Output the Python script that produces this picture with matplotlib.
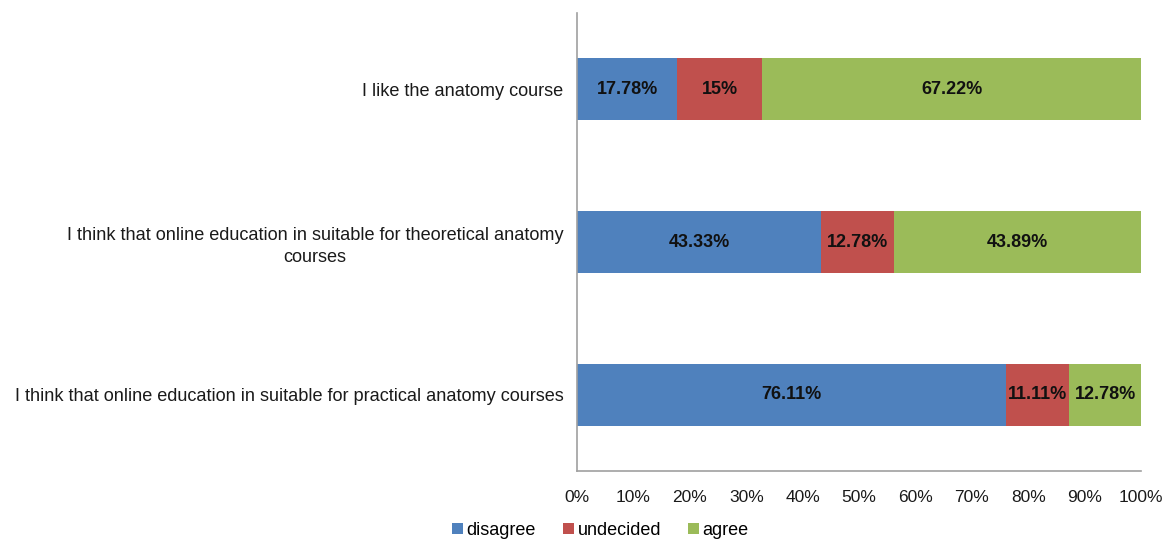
import numpy as np
import matplotlib.pyplot as plt

plt.rcParams['font.family'] = ['Liberation Sans', 'DejaVu Sans']

# data (top to bottom)
statements = [
    "I like the anatomy course",
    "I think that online education in suitable for theoretical anatomy\ncourses",
    "I think that online education in suitable for practical anatomy courses",
]
disagree = [17.78, 43.33, 76.11]
undecided = [15.0, 12.78, 11.11]
agree = [67.22, 43.89, 12.78]
value_labels = [
    ["17.78%", "43.33%", "76.11%"],
    ["15%", "12.78%", "11.11%"],
    ["67.22%", "43.89%", "12.78%"],
]
series_names = ["disagree", "undecided", "agree"]
colors = ["#4F81BD", "#C0504D", "#9BBB59"]

fig = plt.figure(figsize=(11.66, 5.43), dpi=100)
ax = fig.add_axes([0.495, 0.1326, 0.4836, 0.8434])

y = np.arange(len(statements))
left = np.zeros(len(statements))
for vals, name, col, labs in zip([disagree, undecided, agree], series_names, colors, value_labels):
    bars = ax.barh(y, vals, left=left, height=0.405, color=col, label=name)
    for b, lab in zip(bars, labs):
        ax.text(b.get_x() + b.get_width() / 2, b.get_y() + b.get_height() / 2, lab,
                ha='center', va='center', fontsize=13, fontweight='bold', color='#111111')
    left += np.array(vals)

ax.set_ylim(2.5, -0.5)
ax.set_xlim(0, 100)
ax.set_xticks(np.arange(0, 101, 10))
ax.set_xticklabels([f"{v}%" for v in range(0, 101, 10)], fontsize=12.5, color='#1a1a1a')
ax.set_yticks(y)
ax.set_yticklabels(statements, fontsize=13.05, multialignment='center',
                   linespacing=1.35, color='#1a1a1a')
ax.tick_params(axis='x', length=0, pad=14)
ax.tick_params(axis='y', length=0, pad=10)
for s in ['top', 'right']:
    ax.spines[s].set_visible(False)
for s in ['left', 'bottom']:
    ax.spines[s].set_color('#a0a0a0')
    ax.spines[s].set_linewidth(1.2)

fig.legend(loc='lower center', bbox_to_anchor=(0.515, -0.022), ncol=3, frameon=False,
           fontsize=13, handlelength=0.6, handleheight=0.6, handletextpad=0.2,
           columnspacing=1.5)

fig.savefig('out.png', dpi=100)
